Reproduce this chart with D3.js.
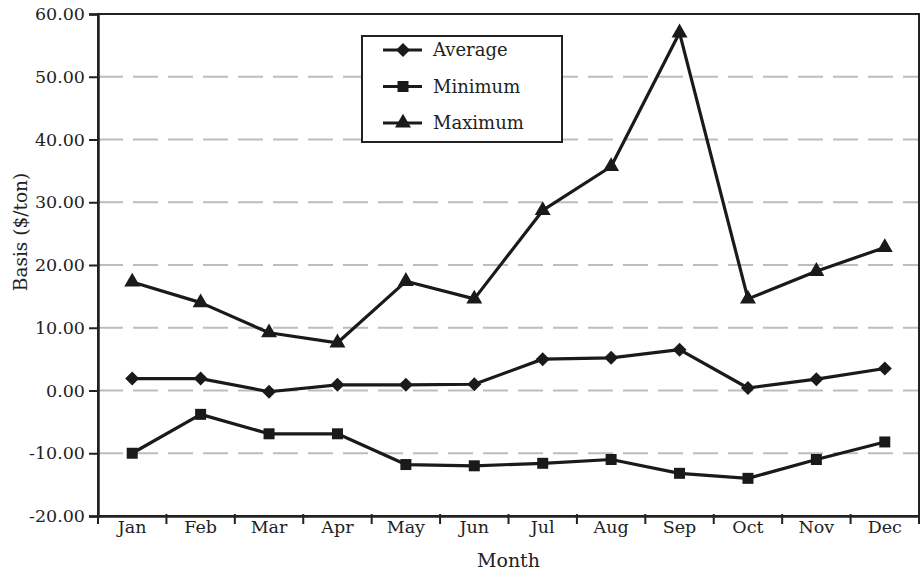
<!DOCTYPE html>
<html><head><meta charset="utf-8">
<script src="https://cdn.jsdelivr.net/npm/d3@7"></script>
<style>body{margin:0;background:#fff}svg{display:block}text{font-family:"DejaVu Serif",serif;fill:#222}</style>
</head><body><svg id="c" width="923" height="571"></svg>
<script>
const months = ["Jan","Feb","Mar","Apr","May","Jun","Jul","Aug","Sep","Oct","Nov","Dec"];
const average = [1.9, 1.9, -0.2, 0.9, 0.9, 1.0, 5.0, 5.2, 6.5, 0.4, 1.8, 3.5];
const minimum = [-10.0, -3.8, -6.9, -6.9, -11.8, -12.0, -11.6, -11.0, -13.2, -14.0, -11.0, -8.2];
const maximum = [17.3, 14.0, 9.2, 7.6, 17.4, 14.6, 28.7, 35.7, 57.0, 14.6, 19.0, 22.8];
const yTicks = [-20, -10, 0, 10, 20, 30, 40, 50, 60];

const svg = d3.select("#c");
const L = 98, R = 919, T = 14, B = 516;
const x = d3.scaleBand().domain(months).range([L, R]);
const y = d3.scaleLinear().domain([-20, 60]).range([B, T]);
const fmt = d => d3.format(".2f")(d).replace("\u2212", "-");

// grid
svg.append("g").selectAll("line").data(yTicks.filter(d => d > -20 && d < 60)).join("line")
  .attr("x1", L).attr("x2", R).attr("y1", d => y(d)).attr("y2", d => y(d))
  .attr("stroke", "#bdbdbd").attr("stroke-width", 2.2).attr("stroke-dasharray", "25,10");

// frame
svg.append("rect").attr("x", L).attr("y", T).attr("width", R - L).attr("height", B - T)
  .attr("fill", "none").attr("stroke", "#222").attr("stroke-width", 2);

// y axis
const ya = svg.append("g").attr("transform", `translate(${L},0)`)
  .call(d3.axisLeft(y).tickValues(yTicks).tickFormat(fmt).tickSize(9).tickPadding(4));
ya.select(".domain").attr("stroke", "#222").attr("stroke-width", 2.5);
ya.selectAll(".tick line").attr("stroke", "#222").attr("stroke-width", 2);
ya.selectAll("text").style("font-size", "17.5px").style("font-family", "DejaVu Serif").attr("fill", "#222");

// x axis
const xa = svg.append("g").attr("transform", `translate(0,${B})`)
  .call(d3.axisBottom(x).tickSize(0).tickPadding(5));
xa.select(".domain").attr("stroke", "#222").attr("stroke-width", 2.5);
xa.selectAll("text").style("font-size", "17.5px").style("font-family", "DejaVu Serif").attr("fill", "#222");
svg.append("g").selectAll("line").data(d3.range(months.length + 1)).join("line")
  .attr("x1", i => L + i * x.step()).attr("x2", i => L + i * x.step())
  .attr("y1", B - 2).attr("y2", B + 8).attr("stroke", "#222").attr("stroke-width", 2);

// titles
svg.append("text").attr("x", (L + R) / 2).attr("y", 567).attr("text-anchor", "middle")
  .style("font-size", "19px").text("Month");
svg.append("text").attr("transform", `translate(27,232) rotate(-90)`).attr("text-anchor", "middle")
  .style("font-size", "18.5px").text("Basis ($/ton)");

const diamond = {draw(ctx, size) { const r = Math.sqrt(size) / 2; ctx.moveTo(0, -r); ctx.lineTo(r, 0); ctx.lineTo(0, r); ctx.lineTo(-r, 0); ctx.closePath(); }};
const series = [
  {name: "Average", values: average, sym: diamond, size: 196},
  {name: "Minimum", values: minimum, sym: d3.symbolSquare, size: 121},
  {name: "Maximum", values: maximum, sym: d3.symbolTriangle, size: 110}
];
const cx = i => x(months[i]) + x.bandwidth() / 2;
const line = d3.line().x((d, i) => cx(i)).y(d => y(d));
series.forEach(s => {
  svg.append("path").attr("d", line(s.values)).attr("fill", "none")
    .attr("stroke", "#1a1a1a").attr("stroke-width", 3.2).attr("stroke-linejoin", "round");
  svg.append("g").selectAll("path").data(s.values).join("path")
    .attr("d", d3.symbol().type(s.sym).size(s.size))
    .attr("transform", (d, i) => `translate(${cx(i)},${y(d)})`).attr("fill", "#1a1a1a");
});

// legend
const lg = svg.append("g");
lg.append("rect").attr("x", 362).attr("y", 36).attr("width", 200).attr("height", 106)
  .attr("fill", "#fff").attr("stroke", "#222").attr("stroke-width", 2);
series.forEach((s, i) => {
  const yy = 50 + i * 36.5;
  lg.append("line").attr("x1", 383).attr("x2", 422).attr("y1", yy).attr("y2", yy)
    .attr("stroke", "#1a1a1a").attr("stroke-width", 3.2);
  lg.append("path").attr("d", d3.symbol().type(s.sym).size(s.size)).attr("transform", `translate(403,${yy})`)
    .attr("fill", "#1a1a1a");
  lg.append("text").attr("x", 433).attr("y", yy).attr("dy", "0.35em").style("font-size", "18px").text(s.name);
});
</script></body></html>
